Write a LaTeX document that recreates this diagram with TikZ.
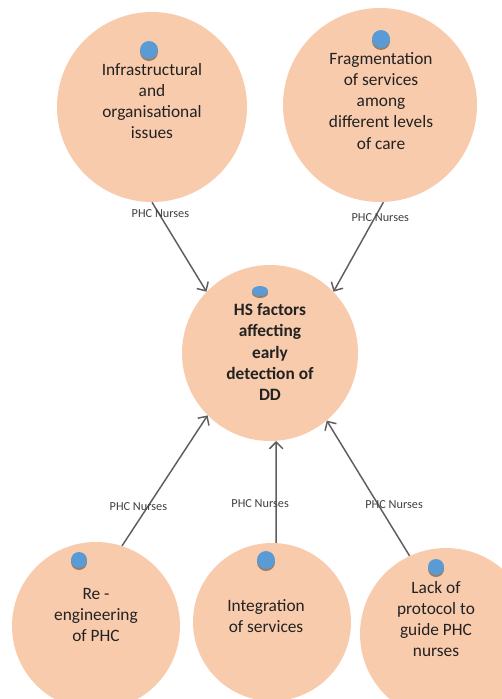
\documentclass[tikz,border=0pt]{standalone}
\usepackage{fontspec}
\setmainfont{Carlito}
\usetikzlibrary{arrows.meta}
\definecolor{peach}{HTML}{F8CBAD}
\definecolor{dotblue}{HTML}{5B9BD5}
\definecolor{dotshadow}{HTML}{9A7F66}
\definecolor{linkgray}{HTML}{5E5E5E}
\definecolor{inktext}{HTML}{222222}
\definecolor{labelgray}{HTML}{404040}

\tikzset{
  pics/marker/.style args={#1/#2}{code={
    \fill[dotshadow] (0,2) ellipse [x radius=#1, y radius=#2];
    \fill[dotblue] (0,0) ellipse [x radius=#1, y radius=#2];
  }}
}

\begin{document}
\begin{tikzpicture}[x=0.75pt,y=-0.75pt,
  bubble/.style={circle, fill=peach, draw=none, inner sep=0pt, minimum size=#1*1.5pt},
  bubbletext/.style={align=center, text=inktext, inner sep=0pt,
    font=\fontsize{13}{15.8}\selectfont},
  link/.style={draw=linkgray, line width=1.1pt,
    -{Straight Barb[length=5pt,width=10pt,line width=1.1pt]}},
  linklabel/.style={font=\fontsize{9.2}{10}\selectfont, text=labelgray, inner sep=0pt}
]
\useasboundingbox (0,0) rectangle (502,699);
\clip (0,0) rectangle (502,699);

% circles
\node[bubble=95] (tl) at (152,107) {};
\node[bubble=97] (tr) at (380,105) {};
\node[bubble=88] (hub) at (270,353) {};
\node[bubble=84] (bl) at (96,626) {};
\node[bubble=79] (bm) at (272,622) {};
\node[bubble=86] (br) at (446,634) {};

% markers
\pic at (149,50) {marker=9/9};
\pic at (381,39) {marker=9/9};
\pic at (260,291) {marker=8/5};
\pic at (79,560) {marker=8/8};
\pic at (266,560) {marker=9/9};
\pic at (436,567) {marker=8/8};

% texts
\node[bubbletext] (tltext) at (152,101) {Infrastructural\\and\\organisational\\issues};
\node[bubbletext] (trtext) at (381,101) {Fragmentation\\of services\\among\\different levels\\of care};
\node[bubbletext, font=\fontsize{13}{15.8}\selectfont\bfseries] (hubtext) at (270,352) {HS factors\\affecting\\early\\detection of\\DD};
\node[bubbletext] (bltext) at (96,615) {Re -\\engineering\\of PHC};
\node[bubbletext] (bmtext) at (266,616) {Integration\\of services};
\node[bubbletext] (brtext) at (436,619) {Lack of\\protocol to\\guide PHC\\nurses};

% connectors
\draw[link] (tl.270) -- node[linklabel, pos=0.13, xshift=1pt] (l1) {PHC Nurses} (hub.136);
\draw[link] (tr.272) -- node[linklabel, pos=0.17, xshift=4pt] (l2) {PHC Nurses} (hub.44);
\draw[link] (bl.72) -- node[linklabel, pos=0.30, xshift=-7pt] (l3) {PHC Nurses} (hub.225);
\draw[link] (bm.87) -- node[linklabel, pos=0.39, xshift=-12pt] (l4) {PHC Nurses} (hub.274);
\draw[link] (br.115) -- node[linklabel, pos=0.38, xshift=12pt] (l5) {PHC Nurses} (hub.310);
\end{tikzpicture}
\end{document}
